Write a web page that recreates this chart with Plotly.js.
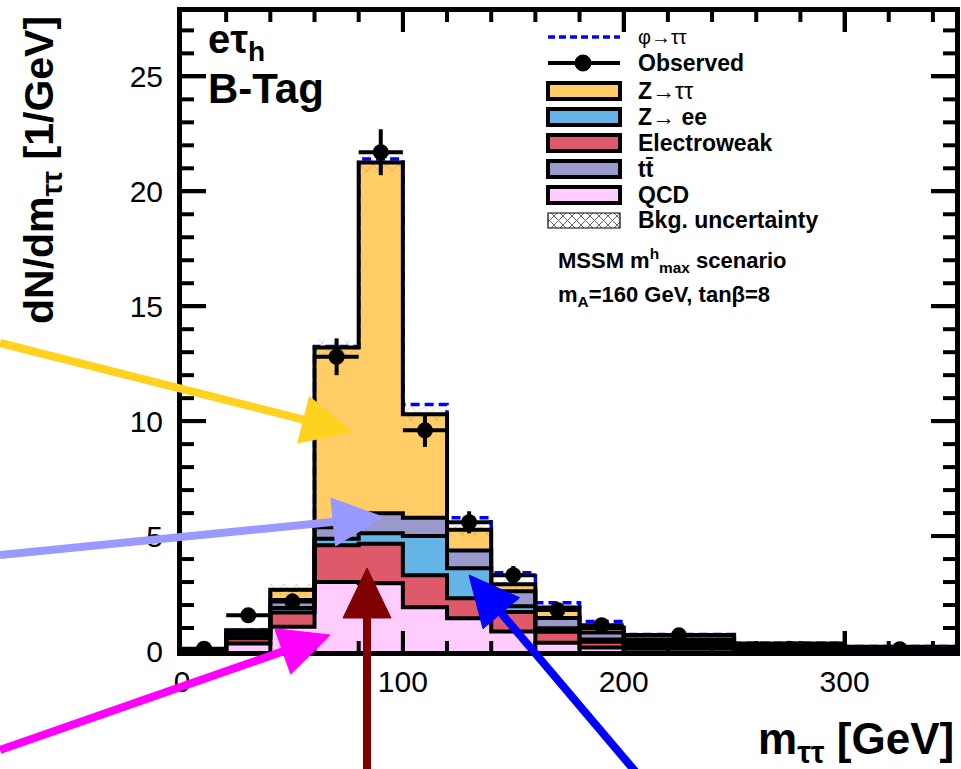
<!DOCTYPE html>
<html>
<head>
<meta charset="utf-8">
<script src="https://cdn.plot.ly/plotly-3.0.1.min.js"></script>
<style>html,body{margin:0;padding:0;background:#fff;}#chart{width:961px;height:769px;}</style>
</head>
<body>
<div id="chart"></div>
<script>
// ---- data ----
const binEdges = [0,20,40,60,80,100,120,140,160,180,200,250,300,350];
const qcd      = [0.02,0.33,1.05,3.00,2.95,1.90,1.43,0.85,0.36,0.15,0.10,0.05,0.03];
const electroweak = [0.02,0.22,0.62,1.60,1.72,1.40,0.87,0.85,0.48,0.25,0.15,0.07,0.04];
const zee      = [0.00,0.05,0.20,0.28,0.45,1.70,1.30,0.25,0.15,0.10,0.10,0.06,0.03];
const ttbar    = [0.00,0.15,0.35,0.50,0.87,0.80,0.77,0.65,0.45,0.30,0.15,0.07,0.04];
const ztautau  = [0.01,0.15,0.45,7.82,15.26,4.50,0.90,0.30,0.45,0.20,0.20,0.08,0.05];
const phiSignal = [0.00,0.00,0.00,0.05,0.15,0.42,0.53,0.50,0.21,0.28,0.02,0.01,0.01];
const bkgUnc   = [0.02,0.15,0.25,0.35,0.40,0.30,0.25,0.20,0.15,0.10,0.06,0.03,0.02];
const observed = [0.10,1.55,2.15,12.8,21.7,9.60,5.60,3.30,1.78,1.12,0.68,0.10,0.08];
const observedErr = [0.10,0.30,0.35,0.80,1.00,0.72,0.48,0.40,0.30,0.25,0.12,0.05,0.05];
const xRange = [0,350], yRange = [0,27.8];
const xTickStep = 100, xMinorStep = 20;
const yTickStep = 5, yMinorStep = 1;
const legendNames = ["φ→ττ","Observed","<b>Z</b>→ττ","<b>Z</b>→ <b>ee</b>","<b>Electroweak</b>","<b>tt̄</b>","<b>QCD</b>","<b>Bkg. uncertainty</b>"];

// ---- styles ----
const FONT = "Liberation Sans, Arial, sans-serif";
const layerColors = ["#FFCCFF","#DE5A6A","#64B5E6","#9999CC","#FFCC66"];
const L=182, R=955, T=12, B=651, W=961, H=769;
const PW=R-L, PH=B-T;
function px(x){return (x-L)/PW;}
function py(y){return (B-y)/PH;}

const centers = binEdges.slice(0,-1).map((e,i)=>(e+binEdges[i+1])/2);
const widths = binEdges.slice(0,-1).map((e,i)=>binEdges[i+1]-e);
const layers = [qcd, electroweak, zee, ttbar, ztautau];

const traces = [];
let base = qcd.map(()=>0);
const cums = [];
layers.forEach((vals,k)=>{
  traces.push({type:'bar', x:centers, y:vals, base:base.slice(), width:widths,
    marker:{color:layerColors[k], line:{width:0}}, hoverinfo:'skip', showlegend:false});
  base = base.map((b,i)=>b+vals[i]);
  cums.push(base.slice());
});
const total = cums[cums.length-1];
// uncertainty hatch
traces.push({type:'bar', x:centers, base: total.map((t,i)=>t-bkgUnc[i]), y: bkgUnc.map(u=>2*u), width:widths,
  marker:{color:'rgba(0,0,0,0)', line:{width:0},
    pattern:{shape:'x', fgcolor:'#666', bgcolor:'rgba(0,0,0,0)', size:9, solidity:0.12, fillmode:'overlay'}},
  hoverinfo:'skip', showlegend:false});

function stepTrace(vals, style){
  const xs=[binEdges[0]].concat(binEdges).concat([binEdges[binEdges.length-1]]);
  const ys=[0].concat(vals).concat([vals[vals.length-1], 0]);
  return {type:'scatter', mode:'lines', x:xs, y:ys, line:Object.assign({shape:'hv'}, style), hoverinfo:'skip', showlegend:false, cliponaxis:true};
}
// signal on top of background (dashed)
traces.push(stepTrace(total.map((t,i)=>t+phiSignal[i]), {color:'#0000FF', width:3.5, dash:'9px,5px'}));
// black outlines
cums.forEach(c=>traces.push(stepTrace(c, {color:'#000', width:4})));

// inward ROOT-style tick marks on all four sides, drawn as line segments in axis units
(function(){
  const xs=[], ys=[];
  const xPerPx=(xRange[1]-xRange[0])/PW, yPerPx=(yRange[1]-yRange[0])/PH;
  for(let v=xRange[0]+xMinorStep; v<xRange[1]; v+=xMinorStep){
    const len=((v%xTickStep)===0?20:10)*yPerPx;
    xs.push(v,v,null, v,v,null); ys.push(yRange[0],yRange[0]+len,null, yRange[1]-len,yRange[1],null);
  }
  for(let v=yRange[0]+yMinorStep; v<yRange[1]; v+=yMinorStep){
    const len=((v%yTickStep)===0?24:12)*xPerPx;
    xs.push(xRange[0],xRange[0]+len,null, xRange[1]-len,xRange[1],null); ys.push(v,v,null, v,v,null);
  }
  traces.push({type:'scatter', mode:'lines', x:xs, y:ys, connectgaps:false, line:{color:'#000', width:4},
    hoverinfo:'skip', showlegend:false, cliponaxis:true});
})();

// observed
traces.push({type:'scatter', mode:'markers', x:centers, y:observed,
  marker:{color:'#000', size:16, symbol:'circle'},
  error_y:{type:'data', array:observedErr, thickness:4, width:0, color:'#000'},
  error_x:{type:'data', array:widths.map(w=>w/2), thickness:4, width:0, color:'#000'},
  hoverinfo:'skip', showlegend:false, cliponaxis:true});

// ---- legend (manual) ----
const shapes = [];
const annotations = [];
const gx0=548, gx1=620, tx=636;
shapes.push({type:'line', xref:'paper', yref:'paper', x0:px(gx0), x1:px(gx1), y0:py(37), y1:py(37), line:{color:'#0000FF', width:3.5, dash:'7px,4px'}});
shapes.push({type:'line', xref:'paper', yref:'paper', x0:px(gx0), x1:px(gx1), y0:py(63), y1:py(63), line:{color:'#000', width:4}});
shapes.push({type:'circle', xref:'paper', yref:'paper', x0:px(575), x1:px(591), y0:py(55), y1:py(71), fillcolor:'#000', line:{color:'#000', width:1}});
const boxY = [91,117,143,169,195];
const boxColors = [layerColors[4], layerColors[2], layerColors[1], layerColors[3], layerColors[0]];
boxY.forEach((yc,k)=>{
  shapes.push({type:'rect', xref:'paper', yref:'paper', x0:px(gx0), x1:px(gx1), y0:py(yc+8), y1:py(yc-8), fillcolor:boxColors[k], line:{color:'#000', width:4}});
});
// hatched legend box
(function(){
  const y0=213, y1=228; let p='';
  for(let x=gx0-15; x<gx1; x+=9){
    const a=Math.max(x,gx0), b=Math.min(x+15,gx1);
    p+=`M${px(a)},${py(y1-(a-x))} L${px(b)},${py(y1-(b-x))} `;
    p+=`M${px(a)},${py(y0+(a-x))} L${px(b)},${py(y0+(b-x))} `;
  }
  shapes.push({type:'path', xref:'paper', yref:'paper', path:p, line:{color:'#666', width:1}});
  shapes.push({type:'rect', xref:'paper', yref:'paper', x0:px(gx0), x1:px(gx1), y0:py(y1), y1:py(y0), line:{color:'#000', width:1.2}});
})();
const legY = [37,63,91,117,143,169,195,220];
legendNames.forEach((t,k)=>{
  annotations.push({xref:'paper', yref:'paper', x:px(tx), y:py(legY[k]), xanchor:'left', yanchor:'middle', showarrow:false,
    text: k===1 ? '<b>'+t+'</b>' : t, font:{family:FONT, size:(k===0?20:23), color:'#000'}});
});
annotations.push({xref:'paper', yref:'paper', x:px(556), y:py(260), xanchor:'left', yanchor:'middle', showarrow:false,
  text:'<b>MSSM m<sup>h</sup><sub>max</sub> scenario</b>', font:{family:FONT, size:22, color:'#000'}});
annotations.push({xref:'paper', yref:'paper', x:px(556), y:py(296), xanchor:'left', yanchor:'middle', showarrow:false,
  text:'<b>m<sub>A</sub>=160 GeV, tanβ=8</b>', font:{family:FONT, size:22, color:'#000'}});
// channel labels
annotations.push({xref:'paper', yref:'paper', x:px(206), y:py(42), xanchor:'left', yanchor:'middle', showarrow:false,
  text:'<b>eτ<sub>h</sub></b>', font:{family:FONT, size:40, color:'#000'}});
annotations.push({xref:'paper', yref:'paper', x:px(206), y:py(89), xanchor:'left', yanchor:'middle', showarrow:false,
  text:'<b>B-Tag</b>', font:{family:FONT, size:42, color:'#000'}});
// axis titles
annotations.push({xref:'paper', yref:'paper', x:px(956), y:py(742), xanchor:'right', yanchor:'middle', showarrow:false,
  text:'<b>m<sub>ττ</sub> [GeV]</b>', font:{family:FONT, size:44, color:'#000'}});
annotations.push({xref:'paper', yref:'paper', x:px(42), y:py(170), xanchor:'center', yanchor:'middle', showarrow:false, textangle:-90,
  text:'<b>dN/dm<sub>ττ</sub> [1/GeV]</b>', font:{family:FONT, size:41, color:'#000'}});
// arrows (shaft + triangular head), in picture pixels
const arrows = [
  {tip:[352,432], tail:[0,343], color:'#FFD21F'},
  {tip:[383,517], tail:[0,555], color:'#9999FF'},
  {tip:[330,635], tail:[0,750], color:'#FF00FF'},
  {tip:[367,568], tail:[367,800], color:'#800000'},
  {tip:[469,575], tail:[651,790], color:'#0000FF'}
];
const headLen=50, headHalf=24, shaftW=8;
arrows.forEach(a=>{
  const dx=a.tip[0]-a.tail[0], dy=a.tip[1]-a.tail[1], len=Math.hypot(dx,dy);
  const ux=dx/len, uy=dy/len, nx=-uy, ny=ux;
  const bx=a.tip[0]-ux*headLen, by=a.tip[1]-uy*headLen;
  shapes.push({type:'line', xref:'paper', yref:'paper', x0:px(a.tail[0]), y0:py(a.tail[1]), x1:px(bx+ux*4), y1:py(by+uy*4),
    line:{color:a.color, width:shaftW}});
  const p=`M${px(a.tip[0])},${py(a.tip[1])} L${px(bx+nx*headHalf)},${py(by+ny*headHalf)} L${px(bx-nx*headHalf)},${py(by-ny*headHalf)} Z`;
  shapes.push({type:'path', xref:'paper', yref:'paper', path:p, fillcolor:a.color, line:{color:a.color, width:1}});
});

const axisCommon = {showgrid:false, zeroline:false, showline:true, linecolor:'#000', linewidth:5, mirror:'ticks',
  ticks:'inside', tickcolor:'#000', tickwidth:4, tickfont:{family:FONT, size:30, color:'#000'}};
const layout = {
  width:W, height:H, paper_bgcolor:'#fff', plot_bgcolor:'#fff',
  margin:{l:L, r:W-R, t:T, b:H-B, pad:0},
  barmode:'overlay', bargap:0, showlegend:false,
  xaxis:Object.assign({}, axisCommon, {range:xRange, tickmode:'linear', tick0:0, dtick:xTickStep, ticklen:20}),
  yaxis:Object.assign({}, axisCommon, {range:yRange, tickmode:'linear', tick0:0, dtick:yTickStep, ticklen:24, ticklabelstandoff:8}),
  shapes:shapes, annotations:annotations
};
Plotly.newPlot('chart', traces, layout, {displayModeBar:false, staticPlot:true});
</script>
</body>
</html>
